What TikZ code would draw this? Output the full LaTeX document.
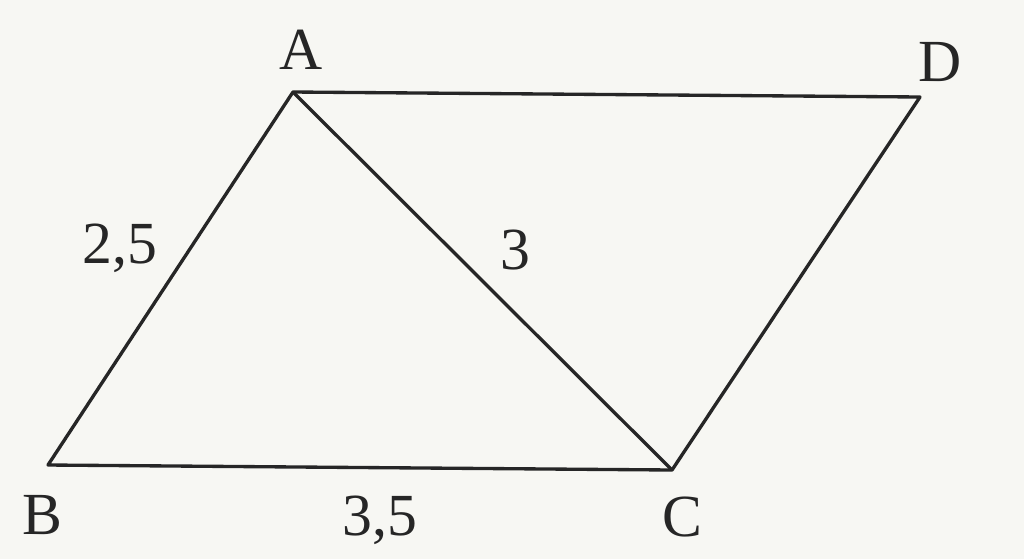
\documentclass[tikz,border=0pt]{standalone}
\usepackage{fontspec}
\setmainfont{Liberation Serif}
\definecolor{bg}{HTML}{F7F7F3}
\definecolor{ink}{HTML}{262626}
\begin{document}
\begin{tikzpicture}[x=0.02cm,y=-0.02cm,
  edge/.style={draw=ink,line width=1.9pt,line join=round},
  lbl/.style={text=ink,font=\fontsize{34}{40}\selectfont,inner sep=0pt}]
\fill[bg] (0,0) rectangle (1024,559);
\useasboundingbox (0,0) rectangle (1024,559);
\coordinate (A) at (293,92);
\coordinate (D) at (920,97);
\coordinate (B) at (48,465);
\coordinate (C) at (672,470);
\draw[edge] (A) -- (D) -- (C) -- (B) -- cycle;
\draw[edge] (A) -- (C);
\node[lbl] (lA) at (301,50) {A};
\node[lbl] (lD) at (940,62) {D};
\node[lbl] (lB) at (42,515) {B};
\node[lbl] (lC) at (682,517) {C};
\node[lbl] (l25) at (120,248) {2,5};
\node[lbl] (l3) at (515,250) {3};
\node[lbl] (l35) at (380,520) {3,5};
\end{tikzpicture}
\end{document}
